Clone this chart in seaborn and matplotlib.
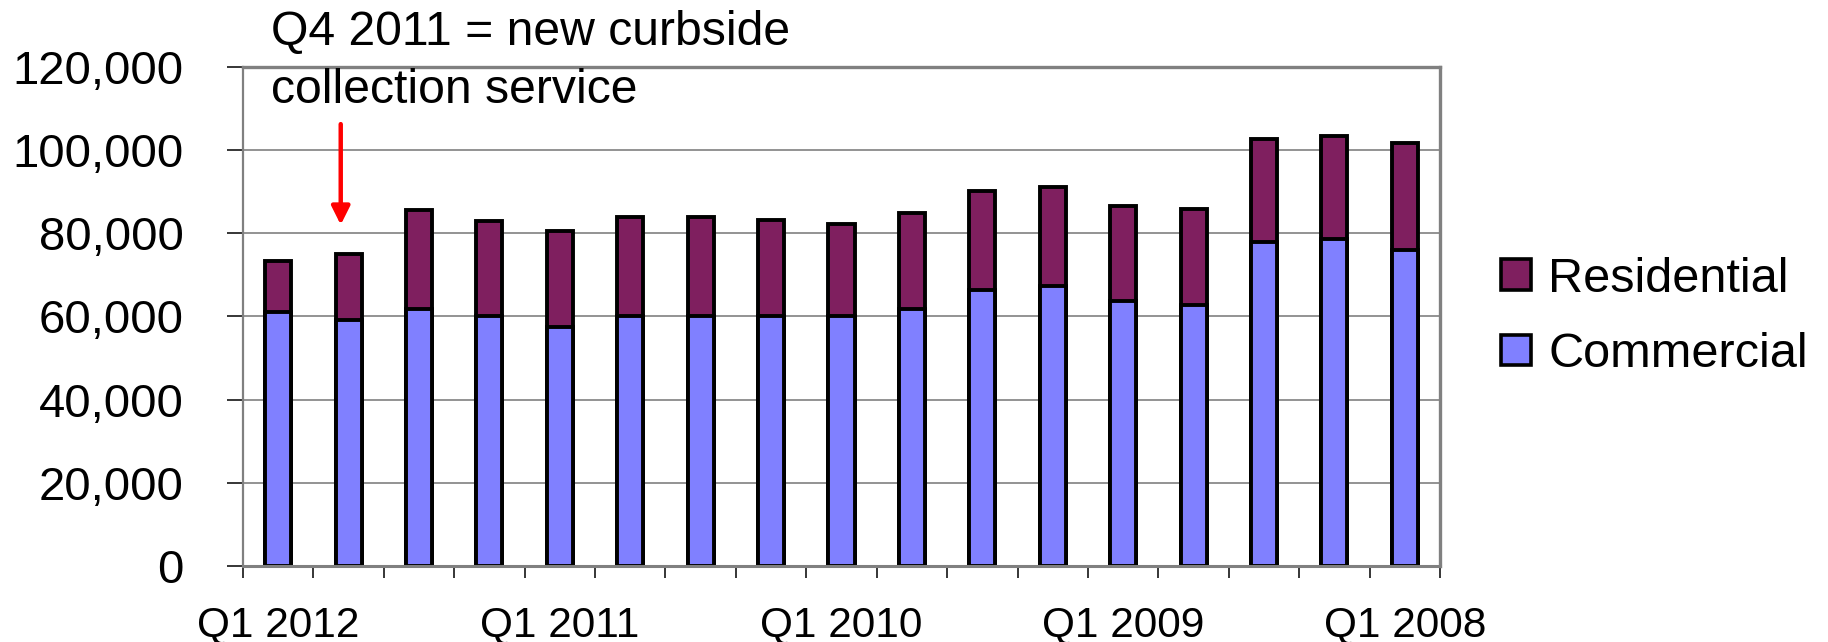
import matplotlib
matplotlib.use("Agg")
import matplotlib.pyplot as plt
import seaborn as sns
import pandas as pd
from matplotlib.patches import Patch, FancyArrowPatch
from matplotlib.ticker import FuncFormatter, FixedLocator

# ---- data ----
quarters = ["Q1 2012", "Q4 2011", "Q3 2011", "Q2 2011",
            "Q1 2011", "Q4 2010", "Q3 2010", "Q2 2010",
            "Q1 2010", "Q4 2009", "Q3 2009", "Q2 2009",
            "Q1 2009", "Q4 2008", "Q3 2008", "Q2 2008",
            "Q1 2008"]
commercial = [61000, 59200, 61800, 60100, 57400, 60100, 60100, 60100,
              60000, 61800, 66300, 67200, 63600, 62800, 77800, 78600, 76000]
residential = [12300, 15800, 23800, 22900, 23000, 23700, 23800, 23000,
               22200, 23000, 23800, 23800, 23000, 22900, 24800, 24800, 25600]
shown_labels = ["Q1 2012", "Q1 2011", "Q1 2010", "Q1 2009", "Q1 2008"]
series_names = ["Residential", "Commercial"]
y_ticks = [0, 20000, 40000, 60000, 80000, 100000, 120000]
note_lines = ["Q4 2011 = new curbside", "collection service"]
note_quarter = "Q4 2011"

RES_COLOR = "#7F1F5F"
COM_COLOR = "#8080FF"
GRAY = "#808080"

df = pd.DataFrame({"quarter": quarters,
                   "commercial": commercial,
                   "residential": residential})
df["total"] = df["commercial"] + df["residential"]

sns.set_theme(style="white")
plt.rcParams["font.family"] = ["Liberation Sans", "DejaVu Sans"]
plt.rcParams["text.color"] = "black"

W, H = 1828, 642
fig = plt.figure(figsize=(W / 100, H / 100), dpi=100)
ax = fig.add_axes([243 / W, 1 - 566 / H, (1440 - 243) / W, (566 - 66.7) / H])

bar_w = 0.37
edge_lw = 2.8
sns.barplot(data=df, x="quarter", y="total", color=RES_COLOR, saturation=1,
            width=bar_w, edgecolor="black", linewidth=edge_lw, ax=ax, zorder=3)
sns.barplot(data=df, x="quarter", y="commercial", color=COM_COLOR, saturation=1,
            width=bar_w, edgecolor="black", linewidth=edge_lw, ax=ax, zorder=3)

n = len(quarters)
ax.set_xlim(-0.5, n - 0.5)
ax.set_ylim(0, 120000)
ax.set_xlabel("")
ax.set_ylabel("")

# y axis
ax.yaxis.set_major_locator(FixedLocator(y_ticks))
ax.yaxis.set_major_formatter(FuncFormatter(lambda v, p: f"{v:,.0f}"))
ax.tick_params(axis="y", which="major", left=True, length=11.5, width=1.1,
               color="black", pad=31, labelsize=34, labelcolor="black")
ax.yaxis.grid(True, color=GRAY, linewidth=1.2)
ax.set_axisbelow(True)

# x axis: labels under selected bars, ticks at category boundaries
label_pos = [quarters.index(q) for q in shown_labels]
ax.xaxis.set_major_locator(FixedLocator(label_pos))
ax.set_xticklabels(shown_labels)
ax.xaxis.set_minor_locator(FixedLocator([i - 0.5 for i in range(n + 1)]))
ax.tick_params(axis="x", which="major", bottom=True, length=0, pad=28,
               labelsize=30.5, labelcolor="black")
ax.tick_params(axis="x", which="minor", bottom=True, length=8.6, width=1.1,
               color="black")

for side, lw in [("left", 1.6), ("bottom", 2.2), ("top", 2.4), ("right", 2.4)]:
    ax.spines[side].set_visible(True)
    ax.spines[side].set_color(GRAY)
    ax.spines[side].set_linewidth(lw)
    ax.spines[side].set_zorder(4)

# annotation
x_note = quarters.index(note_quarter)
ax.text(-0.10, 125200, note_lines[0], fontsize=34.7, ha="left",
        va="baseline", color="black", clip_on=False)
ax.text(-0.10, 111300, note_lines[1], fontsize=34.7, ha="left",
        va="baseline", color="black", clip_on=False, zorder=5)
arrow = FancyArrowPatch((x_note - 0.112, 106200), (x_note - 0.112, 82000),
                        arrowstyle="-|>,head_length=11,head_width=5.5",
                        mutation_scale=1, color="#FF0000", linewidth=3.2,
                        shrinkA=0, shrinkB=0, zorder=6, clip_on=False)
ax.add_patch(arrow)

# legend
handles = [Patch(facecolor=RES_COLOR, edgecolor="black", linewidth=2.6),
           Patch(facecolor=COM_COLOR, edgecolor="black", linewidth=2.6)]
leg = fig.legend(handles, series_names, loc="center left",
                 bbox_to_anchor=(1501 / W, 1 - 317 / H),
                 bbox_transform=fig.transFigure, frameon=False,
                 fontsize=35, handlelength=0.62, handleheight=0.6,
                 handletextpad=0.35, labelspacing=0.62, borderpad=0,
                 borderaxespad=0)
for t in leg.get_texts():
    t.set_color("black")

fig.savefig("out.png", dpi=100)
